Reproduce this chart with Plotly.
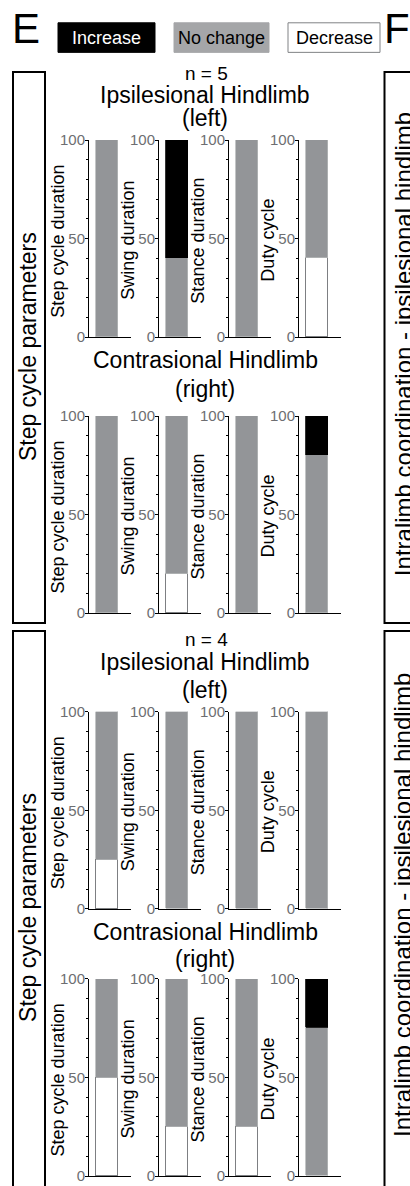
import plotly.graph_objects as go

# ---------------- data ----------------
params = ["Step cycle duration", "Swing duration", "Stance duration", "Duty cycle"]
panel_titles = ["Ipsilesional Hindlimb<br>(left)", "Contrasional Hindlimb<br>(right)",
                "Ipsilesional Hindlimb<br>(left)", "Contrasional Hindlimb<br>(right)"]
group_n = ["n = 5", "n = 4"]
legend_labels = ["Increase", "No change", "Decrease"]
tick_values = [0, 50, 100]
minor_tick_values = [10, 20, 30, 40, 60, 70, 80, 90]

# percent of animals per category (Decrease / No change / Increase)
n5_ipsi_decrease = [0, 0, 0, 40]
n5_ipsi_nochange = [100, 40, 100, 60]
n5_ipsi_increase = [0, 60, 0, 0]

n5_contra_decrease = [0, 20, 0, 0]
n5_contra_nochange = [100, 80, 100, 80]
n5_contra_increase = [0, 0, 0, 20]

n4_ipsi_decrease = [25, 0, 0, 0]
n4_ipsi_nochange = [75, 100, 100, 100]
n4_ipsi_increase = [0, 0, 0, 0]

n4_contra_decrease = [50, 25, 25, 0]
n4_contra_nochange = [50, 75, 75, 75]
n4_contra_increase = [0, 0, 0, 25]

panels = [
    (n5_ipsi_decrease, n5_ipsi_nochange, n5_ipsi_increase),
    (n5_contra_decrease, n5_contra_nochange, n5_contra_increase),
    (n4_ipsi_decrease, n4_ipsi_nochange, n4_ipsi_increase),
    (n4_contra_decrease, n4_contra_nochange, n4_contra_increase),
]

# ---------------- layout geometry (pixels) ----------------
W, H = 410, 1186
FONT = "Liberation Sans, Arial, sans-serif"
GRAY = "#939598"
GRAY_EDGE = "#b4b6b8"
WHITE_EDGE = "#7d7f82"


def px(x):
    return x / W


def py(y):
    return 1 - y / H


axis_left_px = [89, 159, 229, 299]
sub_w = 42
panel_top_px = [133, 413, 713, 984]
panel_h = 200
bar_center = 0.43
bar_width = 0.54

styles = [
    dict(color="white", line=dict(color=WHITE_EDGE, width=1.2)),   # decrease
    dict(color=GRAY, line=dict(color=GRAY_EDGE, width=0.8)),       # no change
    dict(color="black", line=dict(color="black", width=0.8)),      # increase
]

fig = go.Figure()
layout_axes = {}
annotations = []

for p, series in enumerate(panels):
    top = panel_top_px[p]
    for i in range(4):
        k = p * 4 + i + 1
        xa = "x" if k == 1 else f"x{k}"
        ya = "y" if k == 1 else f"y{k}"
        for s, vals in enumerate(series):
            v = vals[i]
            if v > 0:
                fig.add_trace(go.Bar(x=[bar_center], y=[v], width=bar_width,
                                     marker=styles[s], xaxis=xa, yaxis=ya,
                                     showlegend=False, hoverinfo="skip"))
        xl = axis_left_px[i]
        layout_axes["xaxis" if k == 1 else f"xaxis{k}"] = dict(
            domain=[px(xl), px(xl + sub_w)], range=[0, 1], anchor=ya,
            showline=True, linecolor="black", linewidth=1, ticks="",
            showticklabels=False, showgrid=False, zeroline=False, fixedrange=True)
        layout_axes["yaxis" if k == 1 else f"yaxis{k}"] = dict(
            domain=[py(top + panel_h), py(top)], range=[0, 100], anchor=xa,
            showline=True, linecolor="black", linewidth=1,
            ticks="outside", ticklen=3, tickcolor="black", tickwidth=1,
            tickvals=tick_values, ticktext=[str(t) for t in tick_values],
            ticklabelstandoff=-3,
            tickfont=dict(family=FONT, size=15, color="#6d6e71"),
            minor=dict(tickvals=minor_tick_values, ticks="outside", ticklen=2,
                       tickcolor="black", tickwidth=1, showgrid=False),
            showgrid=False, zeroline=False, fixedrange=True)
        # rotated axis title
        annotations.append(dict(
            text=params[i], x=px(xl - 31), y=py(top + panel_h / 2 + 2),
            xref="paper", yref="paper", showarrow=False, textangle=-90,
            xanchor="center", yanchor="middle",
            font=dict(family=FONT, size=18, color="black")))

fig.update_layout(**layout_axes)

# panel titles
title_lines = [(87, 111), (356, 386), (662, 691), (936, 964)]
for p, (y1, y2) in enumerate(title_lines):
    line1, line2 = panel_titles[p].split("<br>")
    for txt, yy in ((line1, y1), (line2, y2)):
        annotations.append(dict(text=txt, x=px(205), y=py(yy), xref="paper", yref="paper",
                                showarrow=False, xanchor="center", yanchor="middle",
                                font=dict(family=FONT, size=23, color="black")))

# n labels
for txt, yy in zip(group_n, (65, 640)):
    annotations.append(dict(text=txt, x=px(206), y=py(yy), xref="paper", yref="paper",
                            showarrow=False, xanchor="center", yanchor="middle",
                            font=dict(family=FONT, size=19, color="black")))

# big panel letters
annotations.append(dict(text="E", x=px(26), y=py(20), xref="paper", yref="paper",
                        showarrow=False, xanchor="center", yanchor="middle",
                        font=dict(family=FONT, size=42, color="black")))
annotations.append(dict(text="F", x=px(382), y=py(20), xref="paper", yref="paper",
                        showarrow=False, xanchor="left", yanchor="middle",
                        font=dict(family=FONT, size=42, color="black")))

# legend boxes
shapes = []
legend_boxes = [(58, 155, "black", "black", "white"),
                (174, 269, "#a5a6a8", "#a5a6a8", "black"),
                (288, 380, "white", "#808285", "black")]
for label, (x0, x1, fill, edge, tcol) in zip(legend_labels, legend_boxes):
    shapes.append(dict(type="rect", xref="paper", yref="paper",
                       x0=px(x0), x1=px(x1), y0=py(44), y1=py(14),
                       fillcolor=fill, line=dict(color=edge, width=1)))
    annotations.append(dict(text=label, x=px((x0 + x1) / 2), y=py(29), xref="paper", yref="paper",
                            showarrow=False, xanchor="center", yanchor="middle",
                            font=dict(family=FONT, size=18, color=tcol)))

# side boxes
side_boxes = [(64, 623, 343, 340), (631, 1200, 912, 909)]
for (y0, y1, yl, yr) in side_boxes:
    shapes.append(dict(type="rect", xref="paper", yref="paper",
                       x0=px(13), x1=px(45), y0=py(y1), y1=py(y0),
                       line=dict(color="black", width=2), fillcolor="rgba(0,0,0,0)"))
    shapes.append(dict(type="rect", xref="paper", yref="paper",
                       x0=px(384.5), x1=px(440), y0=py(y1), y1=py(y0),
                       line=dict(color="black", width=2), fillcolor="rgba(0,0,0,0)"))
    annotations.append(dict(text="Step cycle parameters", x=px(28), y=py(yl),
                            xref="paper", yref="paper", showarrow=False, textangle=-90,
                            xanchor="center", yanchor="middle",
                            font=dict(family=FONT, size=23, color="black")))
    annotations.append(dict(text="Intralimb coordination - ipsilesional hindlimb",
                            x=px(403), y=py(yr), xref="paper", yref="paper",
                            showarrow=False, textangle=-90,
                            xanchor="center", yanchor="middle",
                            font=dict(family=FONT, size=24, color="black")))

fig.update_layout(
    width=W, height=H, autosize=False,
    margin=dict(l=0, r=0, t=0, b=0),
    paper_bgcolor="white", plot_bgcolor="white",
    barmode="stack", bargap=0,
    font=dict(family=FONT),
    shapes=shapes, annotations=annotations,
)

fig.write_html("out.html")
